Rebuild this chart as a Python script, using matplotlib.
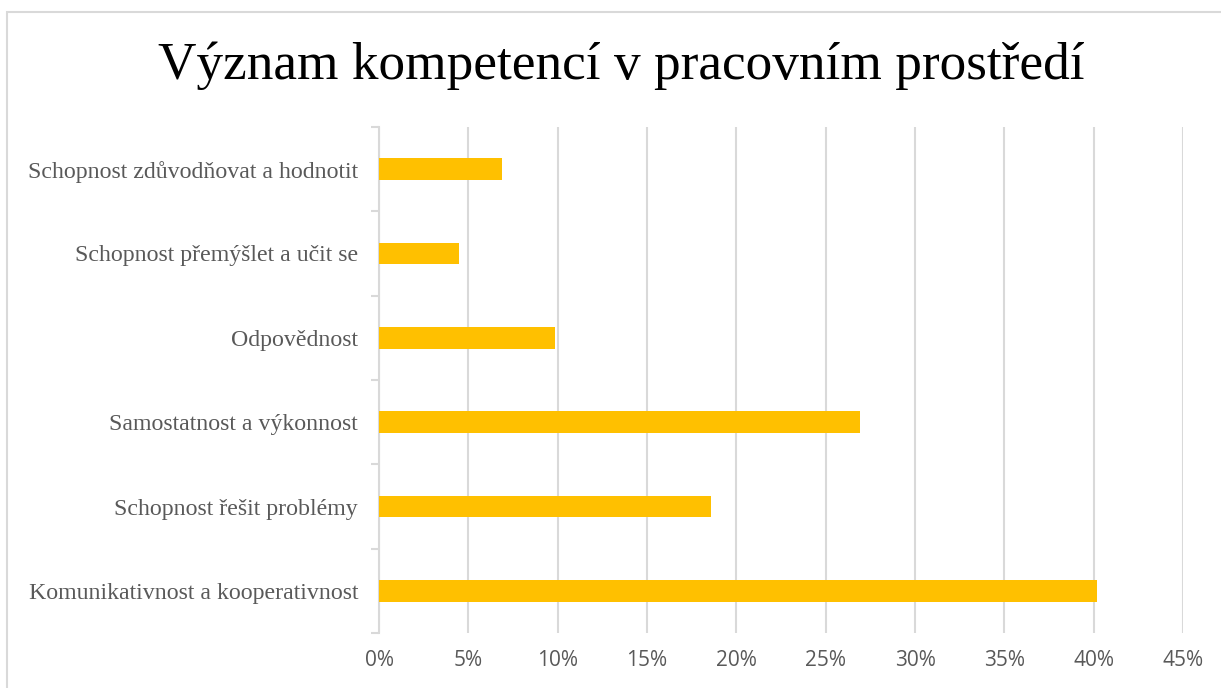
import matplotlib.pyplot as plt
from matplotlib.patches import Rectangle
from matplotlib.ticker import FixedLocator

categories = ['Komunikativnost a kooperativnost', 'Schopnost řešit problémy',
              'Samostatnost a výkonnost', 'Odpovědnost',
              'Schopnost přemýšlet a učit se', 'Schopnost zdůvodňovat a hodnotit']
values = [40.2, 18.6, 26.9, 9.85, 4.5, 6.9]
xticks = [0, 5, 10, 15, 20, 25, 30, 35, 40, 45]

grey = '#d9d9d9'
text_grey = '#595959'

fig = plt.figure(figsize=(12.21, 6.88), dpi=100)
fig.patches.append(Rectangle((7 / 1221, -0.1), 1.2, 1 - 12 / 688 + 0.1, transform=fig.transFigure,
                             fill=False, edgecolor=grey, linewidth=1.5))

ax = fig.add_axes([379 / 1221, 1 - 633 / 688, (1183 - 379) / 1221, (633 - 127) / 688])
y = list(range(len(categories)))
ax.barh(y, values, height=0.26, color='#FFC000', zorder=3)
ax.set_xlim(0, 45)
ax.set_ylim(-0.5, len(categories) - 0.5)

ax.xaxis.set_major_locator(FixedLocator(xticks))
ax.set_xticklabels([f'{t}%' for t in xticks], family='Open Sans', fontsize=15, color=text_grey)
ax.tick_params(axis='x', length=0, pad=12)
ax.grid(axis='x', color=grey, linewidth=1.5, zorder=0)

ax.set_yticks(y)
ax.set_yticklabels(categories, family='Liberation Serif', fontsize=17.2, color=text_grey)
ax.tick_params(axis='y', which='major', length=0, pad=15)
ax.set_yticks([i - 0.5 for i in range(len(categories) + 1)], minor=True)
ax.tick_params(axis='y', which='minor', length=6, width=1.5, color=grey)

for s in ['top', 'right', 'bottom']:
    ax.spines[s].set_visible(False)
ax.spines['left'].set_color(grey)
ax.spines['left'].set_linewidth(1.5)

fig.text(0.509, 1 - 66 / 688, 'Význam kompetencí v pracovním prostředí', ha='center', va='center',
         family='Liberation Serif', fontsize=38.3, color='black')

fig.savefig('out.png', dpi=100, facecolor='white')
